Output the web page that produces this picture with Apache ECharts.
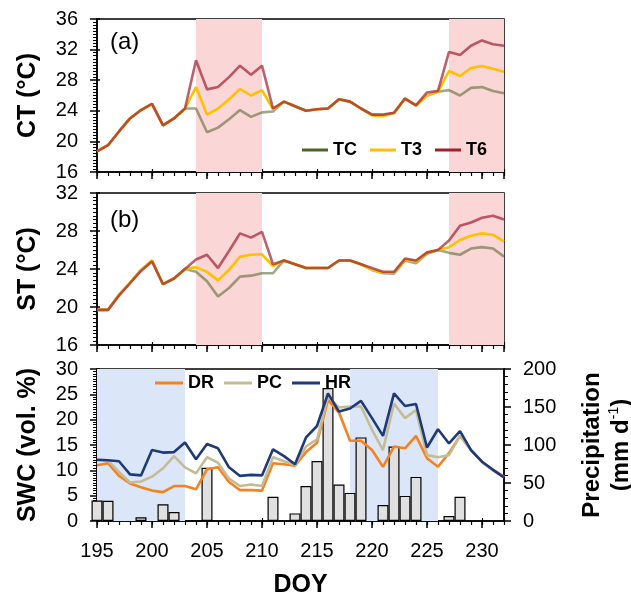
<!DOCTYPE html>
<html>
<head>
<meta charset="utf-8">
<script src="https://cdn.jsdelivr.net/npm/echarts@6/dist/echarts.min.js"></script>
<style>
  html, body { margin: 0; padding: 0; background: #fff; }
  #chart { width: 631px; height: 606px; }
</style>
</head>
<body>
<div id="chart"></div>
<script>
// DOY on x
var doy = [195,196,197,198,199,200,201,202,203,204,205,206,207,208,209,210,211,212,213,214,
           215,216,217,218,219,220,221,222,223,224,225,226,227,228,229,230,231,232];

// (a) canopy temperature
var ctTC = [18.7,19.5,21.3,23.0,24.1,24.9,22.1,23.0,24.3,24.3,21.2,21.8,22.9,24.1,23.2,23.8,23.9,25.2,24.6,24.0,
            24.2,24.3,25.5,25.2,24.3,23.5,23.4,23.7,25.6,24.7,26.0,26.5,26.7,26.0,27.0,27.1,26.6,26.3];
var ctT3 = [18.7,19.5,21.3,23.0,24.1,24.9,22.1,23.0,24.3,27.1,23.5,24.3,25.5,26.85,26.0,26.7,24.2,25.2,24.6,24.0,
            24.2,24.3,25.5,25.2,24.3,23.4,23.3,23.7,25.6,24.7,26.0,26.5,29.2,28.55,29.6,29.85,29.5,29.1];
var ctT6 = [18.7,19.5,21.3,23.0,24.1,24.9,22.1,23.0,24.3,30.6,26.8,27.1,28.4,29.9,28.7,29.9,24.3,25.2,24.6,24.0,
            24.2,24.3,25.5,25.2,24.3,23.5,23.5,23.75,25.6,24.7,26.4,26.6,31.7,31.3,32.5,33.2,32.7,32.5];

// (b) soil temperature
var stTC = [19.7,19.7,21.3,22.55,23.9,24.9,22.4,23.0,24.0,23.7,22.7,21.1,22.0,23.2,23.3,23.55,23.55,24.9,24.5,24.1,
            24.1,24.1,24.9,24.9,24.5,23.9,23.55,23.5,24.9,24.6,25.6,26.0,25.7,25.5,26.15,26.3,26.15,25.3];
var stT3 = [19.7,19.7,21.3,22.55,23.9,24.9,22.4,23.0,24.0,24.2,23.7,22.8,23.9,25.3,25.5,25.55,24.3,24.9,24.5,24.1,
            24.1,24.1,24.9,24.9,24.5,23.9,23.6,23.6,25.0,24.8,25.7,26.0,26.3,27.05,27.5,27.75,27.6,26.9];
var stT6 = [19.7,19.7,21.2,22.5,23.8,24.8,22.4,23.0,24.0,25.0,25.5,24.1,25.9,27.75,27.3,27.9,24.5,24.9,24.5,24.1,
            24.1,24.1,24.9,24.9,24.5,24.1,23.7,23.7,25.1,24.9,25.75,26.0,27.0,28.55,28.9,29.4,29.6,29.2];

// (c) soil water content and precipitation
var swcDR = [11.0,11.4,8.9,7.4,6.65,6.0,5.7,6.9,6.9,6.25,10.2,10.6,7.7,6.1,6.1,6.0,11.4,11.2,10.9,13.6,
             15.45,23.9,21.4,15.85,15.85,14.0,10.7,14.7,14.35,16.8,12.4,10.7,13.4,16.8,14.0,11.7,10.1,8.75];
var swcPC = [12.0,11.9,9.7,7.6,7.8,8.75,10.4,12.8,10.6,9.4,12.6,11.5,8.35,6.9,7.2,6.9,12.6,11.8,11.05,14.7,
             16.1,24.5,22.4,22.6,22.6,18.0,14.0,23.2,20.3,21.9,13.0,12.6,13.0,16.8,14.0,11.6,10.0,8.6];
var swcHR = [12.1,12.0,11.8,9.2,9.0,14.0,13.5,13.6,15.5,12.2,15.2,14.35,10.6,8.9,9.1,9.0,14.15,12.8,11.2,16.5,
             18.75,25.2,21.6,22.2,23.7,20.3,16.8,25.2,22.7,23.1,14.5,18.1,15.3,17.75,14.0,11.7,10.1,8.6];
var precip = [27,26.5,0,0,4.8,0,21.9,11.8,0,0.5,70,0,0,0.5,0.5,0,32,0,10,46,
              79,175,48,37,110,0,21,98,33,58,0,0,6.6,32,0,0,0,0];

// shaded windows (DOY)
var warmWindows = [[204, 210], [227, 232]];
var swcWindows = [[195, 203], [218, 226]];

function pairs(vals) {
    return doy.map(function (d, i) { return [d, vals[i]]; });
}
function barPairs(vals) {
    return doy.map(function (d, i) { return [d, vals[i] > 0 ? vals[i] : '-']; });
}
function areas(list) {
    return list.map(function (w) { return [{ xAxis: w[0] }, { xAxis: w[1] }]; });
}

var FONT = 'Liberation Sans, Arial, sans-serif';
var black = '#000';

function xMajor(g, labels) {
    return {
        type: 'value', gridIndex: g, position: 'bottom', min: 195, max: 232, interval: 5,
        axisLine: { show: true, lineStyle: { color: black, width: 1.5 } },
        axisTick: { show: true, length: 7, lineStyle: { color: black, width: 1.5 } },
        axisLabel: { show: labels, showMaxLabel: false, margin: 20, color: black, fontSize: 20, fontFamily: FONT },
        splitLine: { show: false },
        name: labels ? 'DOY' : '', nameLocation: 'middle', nameGap: 52,
        nameTextStyle: { color: black, fontSize: 25, fontWeight: 'bold', fontFamily: FONT }
    };
}
// extra axes only for tick marks
function xTicks(g, step, len, inside) {
    return {
        type: 'value', gridIndex: g, position: 'bottom', min: 195, max: 232, interval: step,
        axisLine: { show: false },
        axisTick: { show: true, inside: inside, length: len, lineStyle: { color: black, width: 1.2 } },
        axisLabel: { show: false }, splitLine: { show: false }
    };
}
function yAx(g, mn, mx, step, minorN, title, pos) {
    return {
        type: 'value', gridIndex: g, min: mn, max: mx, interval: step, position: pos || 'left',
        axisLine: { show: true, onZero: false, lineStyle: { color: black, width: 1.5 } },
        axisTick: { show: true, length: 7, lineStyle: { color: black, width: 1.5 } },
        minorTick: { show: true, splitNumber: minorN, length: 4, lineStyle: { color: black, width: 1 } },
        axisLabel: { margin: 19, color: black, fontSize: 20, fontFamily: FONT },
        splitLine: { show: false },
        name: title, nameLocation: 'middle', nameGap: 56, nameRotate: 90,
        nameTextStyle: { color: black, fontSize: 25, fontWeight: 'bold', fontFamily: FONT }
    };
}
function yCross(g, mn, mx, step, pos) {
    return {
        type: 'value', gridIndex: g, min: mn, max: mx, interval: step, position: pos || 'left',
        axisLine: { show: false, onZero: false },
        axisTick: { show: true, inside: true, length: 3, lineStyle: { color: black, width: 1.5 } },
        axisLabel: { show: false }, splitLine: { show: false }
    };
}

function line(name, xi, yi, vals, color, op, z) {
    return {
        name: name, type: 'line', xAxisIndex: xi, yAxisIndex: yi, data: pairs(vals),
        showSymbol: false, symbol: 'none', z: z || 3,
        itemStyle: { color: color },
        lineStyle: { color: color, width: 2.6, opacity: op }
    };
}

var chart = echarts.init(document.getElementById('chart'));

var ctTCSeries = line('TC', 0, 0, ctTC, '#4f6228', 0.55, 3);
ctTCSeries.markArea = { silent: true, itemStyle: { color: '#fbd6d7' }, data: areas(warmWindows) };
var stTCSeries = line('TC', 2, 1, stTC, '#4f6228', 0.55, 3);
stTCSeries.markArea = { silent: true, itemStyle: { color: '#fbd6d7' }, data: areas(warmWindows) };

var precipRight = yAx(2, 0, 200, 50, 5, '{t|Precipitation}\n{t|(mm d}{s|-1}{t|)}', 'right');
precipRight.nameGap = 74;
precipRight.nameTextStyle = {
    color: black, fontFamily: FONT, lineHeight: 29,
    rich: {
        t: { fontSize: 24, fontWeight: 'bold', color: black, fontFamily: FONT, lineHeight: 29 },
        s: { fontSize: 14, color: black, fontFamily: FONT, verticalAlign: 'top', lineHeight: 20 }
    }
};

function gridBox(top, h) {
    return { left: 97, top: top, width: 407, height: h, show: true, borderColor: black, borderWidth: 1.5,
             backgroundColor: 'transparent', outerBoundsMode: 'none', containLabel: false };
}

var option = {
    animation: false,
    backgroundColor: '#fff',
    textStyle: { fontFamily: FONT },
    grid: [gridBox(19, 153), gridBox(193, 152), gridBox(369, 152)],
    xAxis: [
        xMajor(0, false), xTicks(0, 1, 4, false), xMajor(1, false), xTicks(1, 1, 4, false), xMajor(2, true), xTicks(2, 1, 4, false),
        xTicks(0, 5, 3, true), xTicks(1, 5, 3, true), xTicks(2, 5, 3, true)
    ],
    yAxis: [
        yAx(0, 16, 36, 4, 10, 'CT (°C)'),
        yAx(1, 16, 32, 4, 10, 'ST (°C)'),
        yAx(2, 0, 30, 5, 10, 'SWC (vol. %)'),
        precipRight,
        yCross(0, 16, 36, 4), yCross(1, 16, 32, 4), yCross(2, 0, 30, 5)
    ],
    legend: [
        {
            data: ['TC', 'T3', 'T6'], left: 297, top: 136, icon: 'rect', itemWidth: 26, itemHeight: 3, itemGap: 13,
            textStyle: { fontSize: 18, fontWeight: 'bold', color: black, fontFamily: FONT }
        },
        {
            data: ['DR', 'PC', 'HR'], left: 150, top: 369, icon: 'rect', itemWidth: 28, itemHeight: 3, itemGap: 10,
            textStyle: { fontSize: 18, fontWeight: 'bold', color: black, fontFamily: FONT }
        }
    ],
    series: [
        ctTCSeries,
        line('T3', 0, 0, ctT3, '#ffc000', 1, 4),
        line('T6', 0, 0, ctT6, '#a02030', 0.7, 5),
        stTCSeries,
        line('T3', 2, 1, stT3, '#ffc000', 1, 4),
        line('T6', 2, 1, stT6, '#a02030', 0.7, 5),
        {
            name: 'Precipitation', type: 'bar', xAxisIndex: 4, yAxisIndex: 3, data: barPairs(precip),
            barWidth: 11, clip: true, z: 2,
            itemStyle: { color: '#e0e0e0', borderColor: black, borderWidth: 1.2 },
            markArea: { silent: true, itemStyle: { color: '#dbe6f8' }, data: areas(swcWindows) }
        },
        line('DR', 4, 2, swcDR, '#f58220', 1, 3),
        line('PC', 4, 2, swcPC, '#c4bc96', 1, 4),
        line('HR', 4, 2, swcHR, '#1f3a78', 1, 5)
    ],
    graphic: [
        { type: 'text', left: 110, top: 30, style: { text: '(a)', font: '24px ' + FONT, fill: black } },
        { type: 'text', left: 110, top: 208, style: { text: '(b)', font: '24px ' + FONT, fill: black } },
        { type: 'text', left: 110, top: 383, style: { text: '(c)', font: '24px ' + FONT, fill: black } },
        { type: 'text', left: 216, top: 28, style: { text: '***', font: 'bold 22px ' + FONT, fill: black } },
        { type: 'text', left: 464, top: 23, style: { text: '***', font: 'bold 22px ' + FONT, fill: black } },
        { type: 'text', left: 215, top: 203, style: { text: '***', font: 'bold 22px ' + FONT, fill: black } },
        { type: 'text', left: 465, top: 199, style: { text: '***', font: 'bold 22px ' + FONT, fill: black } },
        { type: 'text', left: 130, top: 418, style: { text: '***', font: 'bold 22px ' + FONT, fill: black } },
        { type: 'text', left: 389, top: 369, style: { text: '*', font: 'bold 22px ' + FONT, fill: black } }
    ]
};

chart.setOption(option);
</script>
</body>
</html>
